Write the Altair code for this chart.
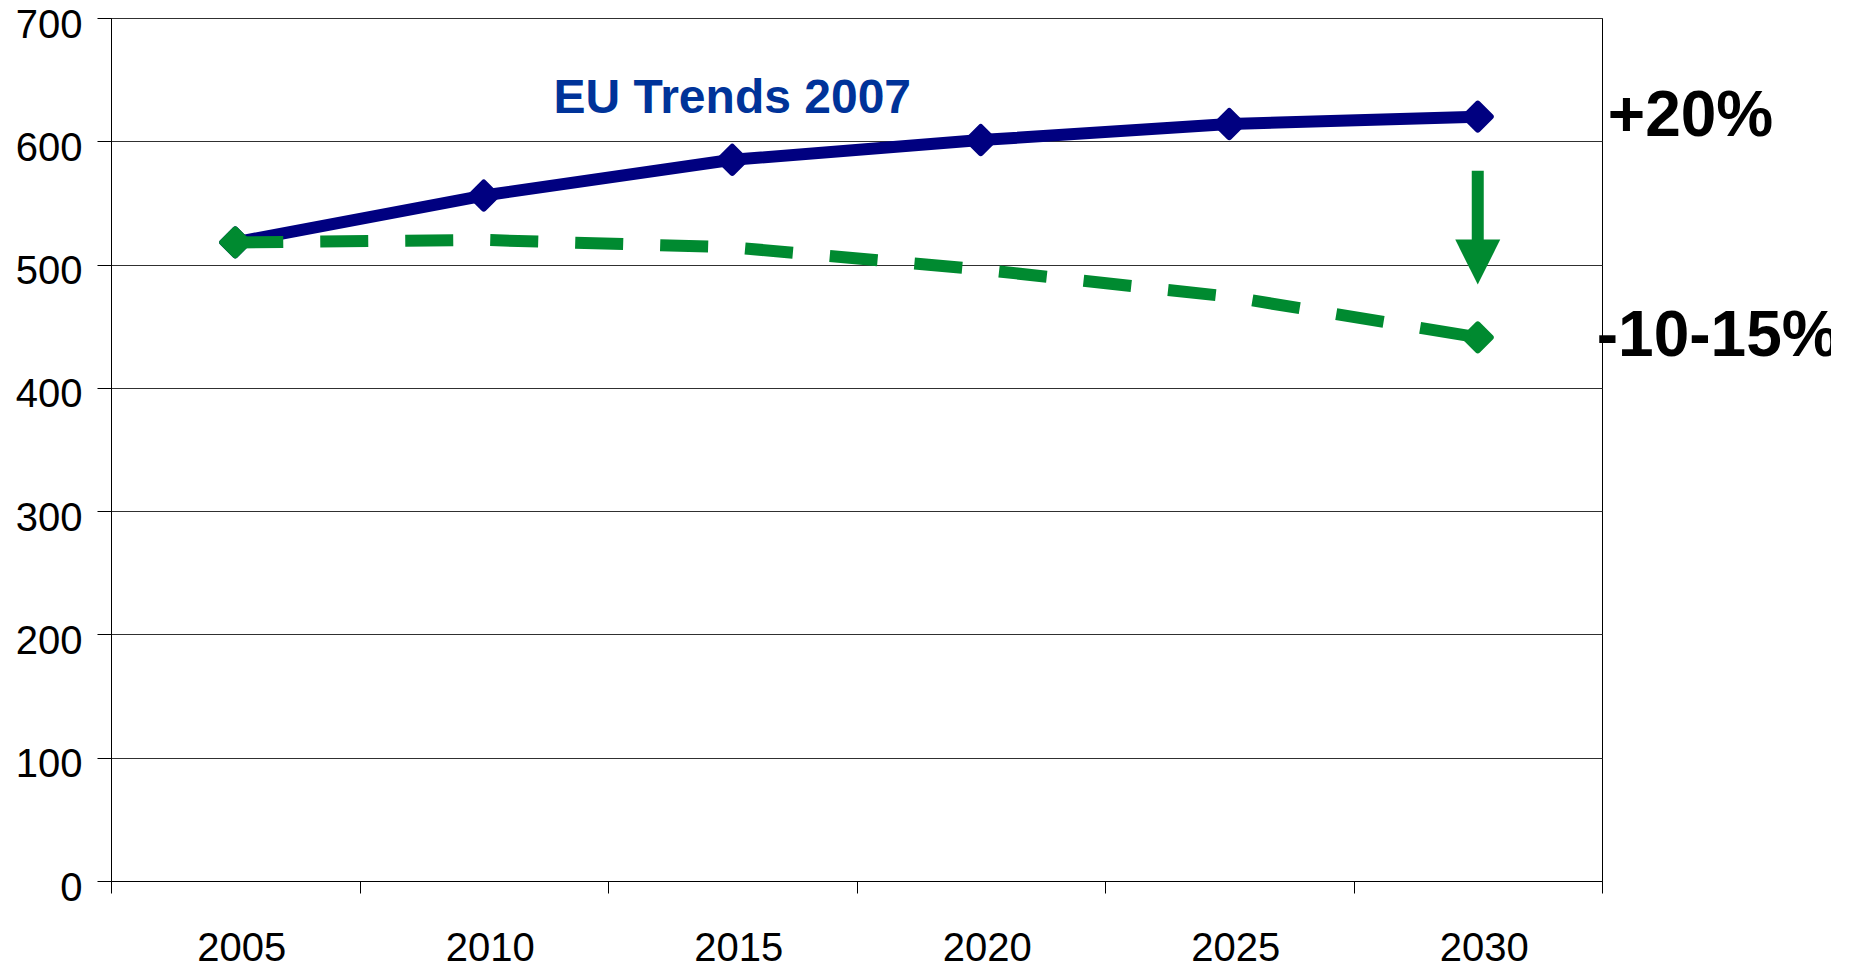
import altair as alt
import pandas as pd

# ---- data ----
years = ["2005", "2010", "2015", "2020", "2025", "2030"]
trend_2007 = [518, 556, 585, 601, 614, 620]          # solid navy line
reduction_path = [518, 520, 514, 496, 474, 441]      # dashed green line
reduction_marker_years = ["2005", "2030"]
reduction_marker_values = [518, 441]
y_tick_values = [0, 100, 200, 300, 400, 500, 600, 700]

# annotations
title_label = ["EU Trends 2007"]
title_year = ["2015"]
title_value = [634]
pct_labels = ["+20%", "-10-15%"]
pct_years = ["2030", "2030"]
pct_values = [620, 441]
arrow_year = ["2030"]
arrow_top = [576]
arrow_bottom = [516]
arrow_head = [502]

NAVY = "#000080"
GREEN = "#008A30"
TITLE_BLUE = "#003399"
FONT = "Liberation Sans"

trend_df = pd.DataFrame({"year": years, "value": trend_2007})
red_df = pd.DataFrame({"year": years, "value": reduction_path})
red_mk_df = pd.DataFrame({"year": reduction_marker_years, "value": reduction_marker_values})
title_df = pd.DataFrame({"year": title_year, "value": title_value, "label": title_label})
plus_df = pd.DataFrame({"year": pct_years[:1], "value": pct_values[:1], "label": pct_labels[:1]})
minus_df = pd.DataFrame({"year": pct_years[1:], "value": pct_values[1:], "label": pct_labels[1:]})
arrow_df = pd.DataFrame({"year": arrow_year, "value": arrow_top, "value2": arrow_bottom, "head": arrow_head})

x_enc = alt.X(
    "year:O",
    scale=alt.Scale(type="band", domain=years, paddingInner=0, paddingOuter=0),
    bandPosition=0.5,
    axis=alt.Axis(
        title=None, labelAngle=0, tickBand="extent", grid=False,
        labelFont=FONT, labelFontSize=40, labelColor="black", labelPadding=35,
        labelOffset=6, tickSize=12, tickColor="black", domainColor="black",
    ),
)
y_enc = alt.Y(
    "value:Q",
    scale=alt.Scale(domain=[0, 700], nice=False, zero=True),
    axis=alt.Axis(
        title=None, values=y_tick_values, grid=True, gridColor="#303030", gridWidth=1,
        labelFont=FONT, labelFontSize=40, labelColor="black", labelPadding=15,
        labelOffset=7, tickSize=14, tickColor="black", domainColor="black",
    ),
)

blue_line = alt.Chart(trend_df).mark_line(color=NAVY, strokeWidth=12, strokeJoin="round").encode(x=x_enc, y=y_enc)
blue_pts = alt.Chart(trend_df).mark_point(
    shape="diamond", filled=True, size=676, color=NAVY, stroke=NAVY, strokeWidth=6,
    strokeJoin="round", opacity=1,
).encode(x=x_enc, y=y_enc)

green_line = alt.Chart(red_df).mark_line(
    color=GREEN, strokeWidth=12, strokeDash=[48, 37], strokeCap="butt"
).encode(x=x_enc, y=y_enc)
green_pts = alt.Chart(red_mk_df).mark_point(
    shape="diamond", filled=True, size=676, color=GREEN, stroke=GREEN, strokeWidth=6,
    strokeJoin="round", opacity=1,
).encode(x=x_enc, y=y_enc)

arrow_shaft = alt.Chart(arrow_df).mark_rule(color=GREEN, strokeWidth=12, strokeCap="butt").encode(
    x=x_enc, y=y_enc, y2="value2:Q"
)
arrow_tip = alt.Chart(arrow_df).mark_point(
    shape="M-1,-1L1,-1L0,1Z", filled=True, size=2025, color=GREEN, opacity=1, strokeWidth=0
).encode(x=x_enc, y=alt.Y("head:Q"))

title_txt = alt.Chart(title_df).mark_text(
    font=FONT, fontSize=48, fontWeight="bold", color=TITLE_BLUE, align="center", baseline="middle"
).encode(x=x_enc, y=y_enc, text="label:N")
plus_txt = alt.Chart(plus_df).mark_text(
    font=FONT, fontSize=64, fontWeight="bold", color="black", align="left", baseline="middle", dx=130
).encode(x=x_enc, y=y_enc, text="label:N")
minus_txt = alt.Chart(minus_df).mark_text(
    font=FONT, fontSize=64, fontWeight="bold", color="black", align="left", baseline="middle", dx=119
).encode(x=x_enc, y=y_enc, text="label:N")

chart = alt.layer(
    blue_line, blue_pts, green_line, green_pts, arrow_shaft, arrow_tip,
    title_txt, plus_txt, minus_txt,
).properties(
    width=1491, height=863,
    autosize=alt.AutoSizeParams(type="none"),
    padding={"left": 111, "top": 18, "right": 229, "bottom": 87},
    background="white",
).configure_view(stroke="black", strokeWidth=1)

chart.save("out.html", embed_options={"renderer": "svg", "actions": False})
